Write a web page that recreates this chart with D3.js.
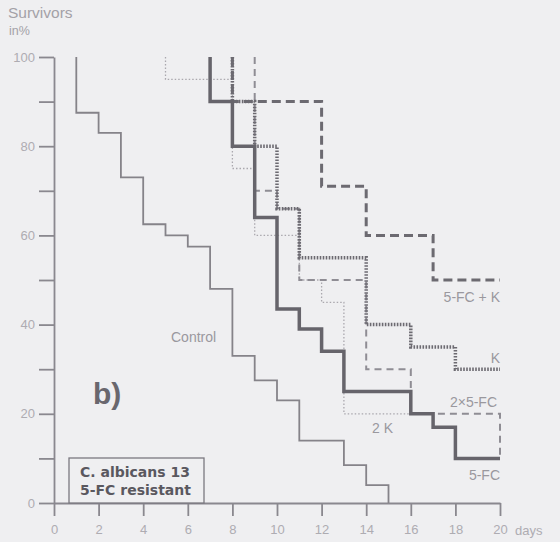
<!DOCTYPE html>
<html>
<head>
<meta charset="utf-8">
<script src="https://cdn.jsdelivr.net/npm/d3@7"></script>
<style>
  body { margin: 0; background: #efeff1; }
  svg { display: block; }
  .tick text { font-family: "Liberation Sans", Arial, sans-serif; fill: #aeacb2; font-size: 13px; }
  .lbl { font-family: "Liberation Sans", Arial, sans-serif; fill: #9a989e; font-size: 14px; }
</style>
</head>
<body>
<div id="chart"></div>
<script>
// survival curves: day of each drop, % surviving after it
var controlDays = [1, 1, 2, 3, 4, 5, 6, 7, 8, 9, 10, 11, 13, 14, 15];
var controlValues = [100, 87.5, 83, 73, 62.5, 60, 57.5, 48, 33, 27.5, 23, 14, 8.5, 4, 0];

var fcDays = [7, 7, 8, 9, 10, 11, 12, 13, 16, 17, 18, 20];
var fcValues = [100, 90, 80, 64, 43.5, 39, 34, 25, 20, 17, 10, 10];

var fcKDays = [8, 8, 12, 14, 17, 20];
var fcKValues = [100, 90, 71, 60, 50, 50];

var kDays = [8, 8, 9, 10, 11, 14, 16, 18, 20];
var kValues = [100, 90, 80, 66, 55, 40, 35, 30, 30];

var fc2Days = [9, 9, 10, 11, 14, 16, 20, 20];
var fc2Values = [100, 70, 66, 50, 30, 20, 20, 10];

var k2Days = [5, 5, 8, 9, 11, 12, 13, 16];
var k2Values = [100, 95, 75, 60, 50, 45, 20, 20];

var xTicks = [0, 2, 4, 6, 8, 10, 12, 14, 16, 18, 20];
var yTicks = [0, 10, 20, 30, 40, 50, 60, 70, 80, 90, 100];
var yLabels = [0, 20, 40, 60, 80, 100];

var width = 560;
var height = 542;

var svg = d3.select("#chart").append("svg")
  .attr("width", width)
  .attr("height", height);

var x = d3.scaleLinear().domain([0, 20]).range([54, 500]);
var y = d3.scaleLinear().domain([0, 100]).range([503, 57]);

// axes
var yAxis = d3.axisLeft(y)
  .tickValues(yTicks)
  .tickSize(15)
  .tickSizeOuter(0)
  .tickPadding(4)
  .tickFormat(function (d) { return yLabels.indexOf(d) >= 0 ? d : ""; });

var xAxis = d3.axisBottom(x)
  .tickValues(xTicks)
  .tickSize(13)
  .tickSizeOuter(0)
  .tickPadding(9);

var gy = svg.append("g").attr("transform", "translate(54,0)").call(yAxis);
var gx = svg.append("g").attr("transform", "translate(0,503)").call(xAxis);

[gx, gy].forEach(function (g) {
  g.selectAll("path, line").attr("stroke", "#8a888f").attr("stroke-width", 1.8);
});

svg.append("text").attr("class", "lbl")
  .attr("x", 515).attr("y", 535)
  .style("font-size", "13px").style("fill", "#aeacb2")
  .text("days");

svg.append("text").attr("class", "lbl")
  .attr("x", 8).attr("y", 18)
  .style("font-size", "15.5px").style("fill", "#a3a1a7")
  .text("Survivors");
svg.append("text").attr("class", "lbl")
  .attr("x", 9).attr("y", 35)
  .style("font-size", "12.5px").style("fill", "#a3a1a7")
  .text("in%");

// step lines
var line = d3.line()
  .x(function (d) { return x(d[0]); })
  .y(function (d) { return y(d[1]); })
  .curve(d3.curveStepAfter);

var series = [
  { days: k2Days, values: k2Values, color: "#aaa8ae", width: 1.3, dash: "1.5,2" },
  { days: fc2Days, values: fc2Values, color: "#8f8d94", width: 2, dash: "7,5" },
  { days: controlDays, values: controlValues, color: "#858389", width: 1.8, dash: null },
  { days: kDays, values: kValues, color: "#6c6a71", width: 3.5, dash: "1.6,1.4" },
  { days: fcKDays, values: fcKValues, color: "#6c6a71", width: 3, dash: "9,5" },
  { days: fcDays, values: fcValues, color: "#66646b", width: 3.5, dash: null }
];

svg.selectAll("path.curve")
  .data(series)
  .enter()
  .append("path")
  .attr("class", "curve")
  .attr("fill", "none")
  .attr("stroke", function (d) { return d.color; })
  .attr("stroke-width", function (d) { return d.width; })
  .attr("stroke-dasharray", function (d) { return d.dash; })
  .attr("d", function (d) {
    return line(d.days.map(function (day, i) { return [day, d.values[i]]; }));
  });

// curve labels
var labels = [
  { text: "Control", x: 171, y: 342, anchor: "start" },
  { text: "5-FC + K", x: 500, y: 302, anchor: "end" },
  { text: "K", x: 500, y: 363, anchor: "end" },
  { text: "2×5-FC", x: 497, y: 407, anchor: "end" },
  { text: "2 K", x: 372, y: 433, anchor: "start" },
  { text: "5-FC", x: 500, y: 480, anchor: "end" }
];

svg.selectAll("text.curve-lbl")
  .data(labels)
  .enter()
  .append("text")
  .attr("class", "lbl curve-lbl")
  .attr("x", function (d) { return d.x; })
  .attr("y", function (d) { return d.y; })
  .attr("text-anchor", function (d) { return d.anchor; })
  .text(function (d) { return d.text; });

svg.append("text")
  .attr("x", 93).attr("y", 404)
  .style("font-family", "Liberation Sans, Arial, sans-serif")
  .style("font-weight", "bold")
  .style("font-size", "30px")
  .style("fill", "#69676e")
  .text("b)");

// strain box
svg.append("rect")
  .attr("x", 69).attr("y", 458)
  .attr("width", 135).attr("height", 45)
  .attr("fill", "#efeff1")
  .attr("stroke", "#7a7880")
  .attr("stroke-width", 1.3);

svg.append("text")
  .attr("x", 80).attr("y", 477)
  .style("font-family", "DejaVu Sans, sans-serif")
  .style("font-weight", "bold")
  .style("font-size", "14px")
  .style("fill", "#5a585f")
  .text("C. albicans 13");
svg.append("text")
  .attr("x", 80).attr("y", 495)
  .style("font-family", "DejaVu Sans, sans-serif")
  .style("font-weight", "bold")
  .style("font-size", "14px")
  .style("fill", "#5a585f")
  .text("5-FC resistant");
</script>
</body>
</html>
